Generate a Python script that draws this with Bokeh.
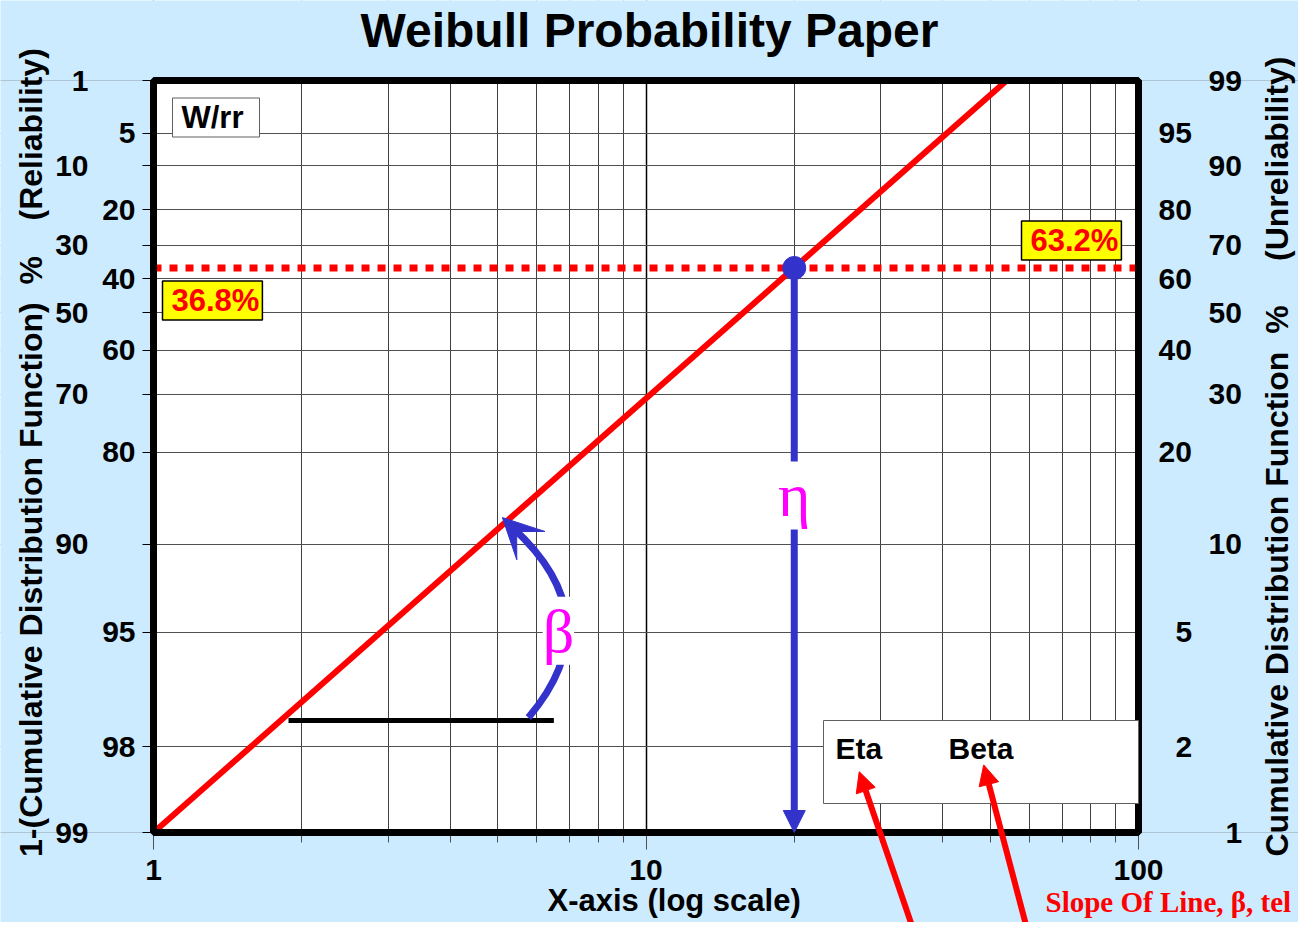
import math
from bokeh.plotting import figure
from bokeh.models import (LinearAxis, FixedTicker, Range1d, Label, Arrow,
                          NormalHead, VeeHead, BoxAnnotation)
from bokeh.embed import file_html
from bokeh.resources import INLINE

# ---------------- data ----------------
F_ticks_pct = [1, 2, 5, 10, 20, 30, 40, 50, 60, 70, 80, 90, 95, 99]
inner_F_pct = [2, 5, 20, 40, 60, 80, 95]          # labels nearest the frame
outer_F_pct = [1, 10, 30, 50, 70, 90, 99]         # labels further out
x_major = [1, 10, 100]
x_labels = ["1", "10", "100"]
x_minor = [2, 3, 4, 5, 6, 7, 8, 9, 20, 30, 40, 50, 60, 70, 80, 90]

line_x = [1.0, 54.0]          # Weibull line end points
line_F_pct = [1.0, 99.0]
eta_x = 20.0                  # characteristic life
eta_F_pct = 63.2
dotted_x = [1.0, 100.0]

# annotation geometry (x in data units, F in percent)
base_x = [1.88, 6.5]
base_F_pct = 2.47
arc_start = (5.77, 2.53)
arc_ctrl = (8.55, 5.58)
arc_end = (5.36, 11.35)
arc_tip = (5.11, 12.26)
eta_label_pos = (20.0, 14.5)
beta_label_pos = (6.64, 5.07)
eta_arrow = ((35.8, 0.399), (27.1, 1.636))
beta_arrow = ((59.0, 0.477), (48.5, 1.728))

FONT = "Liberation Sans"
SERIF = "Liberation Serif"
BLUE = "#3333CC"
RED = "#FF0000"
MAGENTA = "#FF00FF"
BG = "#CCEBFF"
GRID = "#505050"

# page layout (pixels)
W, H = 1298, 922
PX_L, PX_R, PX_T, PX_B = 153, 1138, 80, 832
TICK_FONT = 30
DIGIT_W = 0.556 * TICK_FONT


def wy(F_pct):
    return math.log(-math.log(1.0 - F_pct / 100.0))


y_lo, y_hi = wy(F_ticks_pct[0]), wy(F_ticks_pct[-1])
dec_px = (PX_R - PX_L) / (math.log10(x_major[-1]) - math.log10(x_major[0]))
x_start = 10 ** (math.log10(x_major[0]) - PX_L / dec_px)
x_end = 10 ** (math.log10(x_major[-1]) + (W - PX_R) / dec_px)
ky = (PX_B - PX_T) / (y_hi - y_lo)
y_top = y_hi + PX_T / ky
y_bottom = y_lo - (H - PX_B) / ky

p = figure(width=W, height=H, x_axis_type="log",
           x_range=Range1d(x_start, x_end), y_range=Range1d(y_bottom, y_top),
           output_backend="svg", toolbar_location=None, title=None,
           min_border=0)
p.background_fill_color = "white"
p.border_fill_color = BG
p.outline_line_color = None

# ---------------- axes ----------------
yt = FixedTicker(ticks=[wy(f) for f in F_ticks_pct])
xt = FixedTicker(ticks=x_major, minor_ticks=x_minor)


def style_axis(ax, standoff, tick_out=0, size=TICK_FONT):
    ax.major_label_text_font = FONT
    ax.major_label_text_font_size = f"{size}px"
    ax.major_label_text_font_style = "bold"
    ax.major_label_text_color = "black"
    ax.axis_line_color = None
    ax.major_tick_in = 0
    ax.minor_tick_in = 0
    ax.major_tick_out = tick_out
    ax.minor_tick_out = 0
    ax.minor_tick_line_color = None
    if tick_out == 0:
        ax.major_tick_line_color = None
    ax.major_label_standoff = int(round(standoff))


# left side: reliability labels (100 - F), two staggered tiers
yax = p.yaxis[0]
yax.ticker = yt
yax.fixed_location = x_major[0]
yax.major_label_overrides = {wy(f): (str(100 - f) if f in inner_F_pct else "")
                             for f in F_ticks_pct}
style_axis(yax, 7, tick_out=11)
yax.major_tick_line_color = "black"

yax2 = LinearAxis(ticker=yt, fixed_location=x_major[0])
yax2.major_label_overrides = {wy(f): (str(100 - f) if f in outer_F_pct else "")
                              for f in F_ticks_pct}
style_axis(yax2, 65)
p.add_layout(yax2, "left")

# right side: unreliability labels (F), two staggered tiers, right-aligned digits
for tier, base in ((inner_F_pct, 20), (outer_F_pct, 70)):
    for ndig in (2, 1):
        group = [f for f in tier if len(str(f)) == ndig]
        if not group:
            continue
        ra = LinearAxis(ticker=yt, fixed_location=x_major[-1])
        ra.major_label_overrides = {wy(f): (str(f) if f in group else "")
                                    for f in F_ticks_pct}
        style_axis(ra, base + (2 - ndig) * DIGIT_W)
        p.add_layout(ra, "right")

xax = p.xaxis[0]
xax.ticker = xt
xax.fixed_location = y_lo
xax.major_label_overrides = dict(zip(x_major, x_labels))
style_axis(xax, 10, tick_out=17)
xax.minor_tick_out = 10
xax.major_tick_line_color = GRID
xax.minor_tick_line_color = GRID

# ---------------- grid ----------------
p.xgrid.ticker = xt
p.ygrid.ticker = yt
p.xgrid.grid_line_color = "black"
p.xgrid.grid_line_width = 1.5
p.xgrid.minor_grid_line_color = "#404040"
p.xgrid.minor_grid_line_width = 1
p.ygrid.grid_line_color = GRID
p.ygrid.grid_line_width = 1

# light-blue surround outside the probability paper (hides grid ends)
for kw in (dict(left=x_start / 2, right=x_end * 2, bottom=y_hi, top=y_top + 1),
           dict(left=x_start / 2, right=x_end * 2, bottom=y_bottom - 1, top=y_lo),
           dict(left=x_start / 2, right=x_major[0], bottom=y_lo, top=y_hi),
           dict(left=x_major[-1], right=x_end * 2, bottom=y_lo, top=y_hi)):
    p.add_layout(BoxAnnotation(fill_color=BG, fill_alpha=1.0, line_color=None,
                               level="underlay", **kw))

# ---------------- glyphs ----------------
p.line(line_x, [wy(f) for f in line_F_pct], line_color=RED, line_width=6)
p.line(dotted_x, [wy(eta_F_pct)] * len(dotted_x), line_color=RED,
       line_width=7, line_dash="8 8")
p.line(base_x, [wy(base_F_pct)] * len(base_x), line_color="black", line_width=5)
p.quadratic(x0=[arc_start[0]], y0=[wy(arc_start[1])],
            x1=[arc_end[0]], y1=[wy(arc_end[1])],
            cx=[arc_ctrl[0]], cy=[wy(arc_ctrl[1])],
            line_color=BLUE, line_width=7)
p.scatter([eta_x], [wy(eta_F_pct)], size=23, color=BLUE)

# paper border
p.add_layout(BoxAnnotation(left=x_major[0], right=x_major[-1], bottom=y_lo, top=y_hi,
                           fill_alpha=0.0, line_color="black", line_width=7,
                           line_alpha=1.0))

# arrows
p.add_layout(Arrow(end=NormalHead(size=22, fill_color=BLUE, line_color=BLUE),
                   x_start=eta_x, y_start=wy(eta_F_pct), x_end=eta_x, y_end=y_lo,
                   line_color=BLUE, line_width=7))
p.add_layout(Arrow(end=VeeHead(size=40, fill_color=BLUE, line_color=BLUE),
                   x_start=arc_end[0], y_start=wy(arc_end[1]),
                   x_end=arc_tip[0], y_end=wy(arc_tip[1]),
                   line_color=BLUE, line_width=7))


def lab(text, x, y, size, color="black", align="left", baseline="middle",
        units="screen", font=FONT, style="bold", angle=0.0, **kw):
    if units == "screen":
        y = H - y          # page y (top-down) -> screen y (bottom-up)
    return Label(text=text, x=x, y=y, x_units=units, y_units=units,
                 text_font=font, text_font_size=f"{size}px",
                 text_font_style=style, text_color=color, text_align=align,
                 text_baseline=baseline, angle=angle, **kw)


# greek labels with white knock-out
p.add_layout(lab("η", eta_label_pos[0], wy(eta_label_pos[1]), 62, color=MAGENTA,
                 align="center", units="data", font=SERIF, style="normal",
                 background_fill_color="white"))
p.add_layout(lab("β", beta_label_pos[0], wy(beta_label_pos[1]), 62, color=MAGENTA,
                 align="center", units="data", font=SERIF, style="normal",
                 background_fill_color="white"))

# boxes (x = left edge of box)
p.add_layout(lab("W/rr", 172, 117, 31, background_fill_color="white",
                 border_line_color="#606060", border_line_width=1,
                 padding=dict(left=9, right=16, top=2, bottom=2)))
p.add_layout(lab("36.8%", 162, 300, 31, color=RED,
                 background_fill_color="#FFFF00", border_line_color="black",
                 border_line_width=1.5,
                 padding=dict(left=9, right=3, top=2, bottom=2)))
p.add_layout(lab("63.2%", 1021, 240, 31, color=RED,
                 background_fill_color="#FFFF00", border_line_color="black",
                 border_line_width=1.5,
                 padding=dict(left=9, right=3, top=2, bottom=2)))

p.add_layout(BoxAnnotation(left=823, right=PX_R, top=H - 720, bottom=H - 803,
                           left_units="screen", right_units="screen",
                           top_units="screen", bottom_units="screen",
                           fill_color="white", fill_alpha=1.0,
                           line_color="#606060", line_width=1, line_alpha=1.0))
p.add_layout(lab("Eta", 835, 748, 30))
p.add_layout(lab("Beta", 948, 748, 30))

for (s, e) in (eta_arrow, beta_arrow):
    p.add_layout(Arrow(end=NormalHead(size=20, fill_color=RED, line_color=RED),
                       x_start=s[0], y_start=wy(s[1]), x_end=e[0], y_end=wy(e[1]),
                       line_color=RED, line_width=6))

# texts around the paper
p.add_layout(lab("Weibull Probability Paper", 649, 30, 48, align="center"))
p.add_layout(lab("X-axis (log scale)", 547, 900, 31))
p.add_layout(lab("Slope Of Line, β, tel", 1045, 901, 29, color=RED, font=SERIF))
p.add_layout(lab("1-(Cumulative Distribution Function)\u00a0\u00a0%\u00a0\u00a0\u00a0\u00a0(Reliability)",
                 30, 452, 32, align="center", angle=math.pi / 2))
p.add_layout(lab("Cumulative Distribution Function\u00a0\u00a0%\u00a0\u00a0\u00a0\u00a0\u00a0(Unreliability)",
                 1276, 456, 32, align="center", angle=math.pi / 2))

open("out.html", "w").write(file_html(p, INLINE))
